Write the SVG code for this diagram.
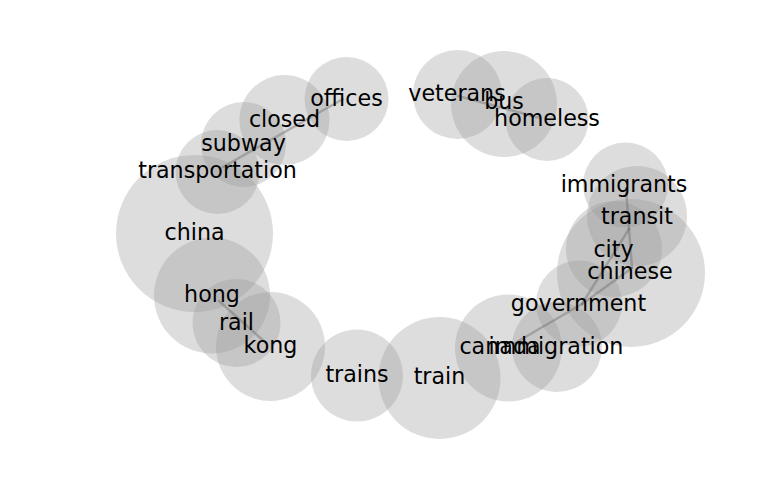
<svg xmlns="http://www.w3.org/2000/svg" width="768" height="500" viewBox="0 0 768 500">
<style>
.n circle{fill:#999999;fill-opacity:0.33;stroke:none}
.n text{font-family:"DejaVu Sans",sans-serif;font-size:22.2px;fill:#000;text-anchor:middle}
.e line{stroke:#707070;stroke-opacity:0.45;stroke-width:2.5;stroke-linecap:round}
</style>
<rect width="768" height="500" fill="#ffffff"/>
<g id="nodes-circles">
<g id="offices" class="n"><circle cx="346.5" cy="99" r="42"/></g>
<g id="closed" class="n"><circle cx="284.5" cy="120" r="45"/></g>
<g id="subway" class="n"><circle cx="243.5" cy="144.5" r="42.5"/></g>
<g id="transportation" class="n"><circle cx="217.5" cy="172" r="42"/></g>
<g id="china" class="n"><circle cx="194.5" cy="233.5" r="78.5"/></g>
<g id="hong" class="n"><circle cx="212" cy="295.5" r="58"/></g>
<g id="rail" class="n"><circle cx="236.5" cy="323" r="44"/></g>
<g id="kong" class="n"><circle cx="270.5" cy="346.5" r="54.5"/></g>
<g id="trains" class="n"><circle cx="357" cy="375.5" r="46"/></g>
<g id="train" class="n"><circle cx="439.5" cy="378" r="61"/></g>
<g id="canada" class="n"><circle cx="508.5" cy="348" r="53.5"/></g>
<g id="immigration" class="n"><circle cx="557" cy="347" r="45"/></g>
<g id="government" class="n"><circle cx="579" cy="303.5" r="43"/></g>
<g id="chinese" class="n"><circle cx="631" cy="273" r="74"/></g>
<g id="city" class="n"><circle cx="614" cy="249" r="48"/></g>
<g id="transit" class="n"><circle cx="637" cy="216" r="50"/></g>
<g id="immigrants" class="n"><circle cx="625.5" cy="185" r="42.5"/></g>
<g id="veterans" class="n"><circle cx="457.5" cy="94.5" r="44.5"/></g>
<g id="bus" class="n"><circle cx="504" cy="104" r="53"/></g>
<g id="homeless" class="n"><circle cx="547" cy="119.5" r="41.5"/></g>
</g>
<g id="connectors" class="e">
<line x1="223" y1="167" x2="343" y2="99"/>
<line x1="458" y1="96" x2="540" y2="118"/>
<line x1="219" y1="301" x2="266" y2="343"/>
<line x1="626" y1="188" x2="629" y2="229"/>
<line x1="629" y1="229" x2="582" y2="304"/>
<line x1="629" y1="229" x2="632" y2="268"/>
<line x1="632" y1="268" x2="582" y2="304"/>
<line x1="582" y1="304" x2="515" y2="343"/>
</g>
<g id="labels" class="n">
<text x="346.5" y="106">offices</text>
<text x="284.5" y="127">closed</text>
<text x="243.5" y="151">subway</text>
<text x="217.5" y="178">transportation</text>
<text x="194.5" y="240">china</text>
<text x="212" y="302">hong</text>
<text x="236.5" y="330">rail</text>
<text x="270.5" y="353">kong</text>
<text x="357" y="382">trains</text>
<text x="439.5" y="384">train</text>
<text x="500" y="354">canada</text>
<text x="556" y="354">immigration</text>
<text x="578.5" y="311">government</text>
<text x="630" y="279">chinese</text>
<text x="613.5" y="257">city</text>
<text x="637" y="224">transit</text>
<text x="624" y="192">immigrants</text>
<text x="457" y="101">veterans</text>
<text x="504" y="109">bus</text>
<text x="547" y="126">homeless</text>
</g>
</svg>
